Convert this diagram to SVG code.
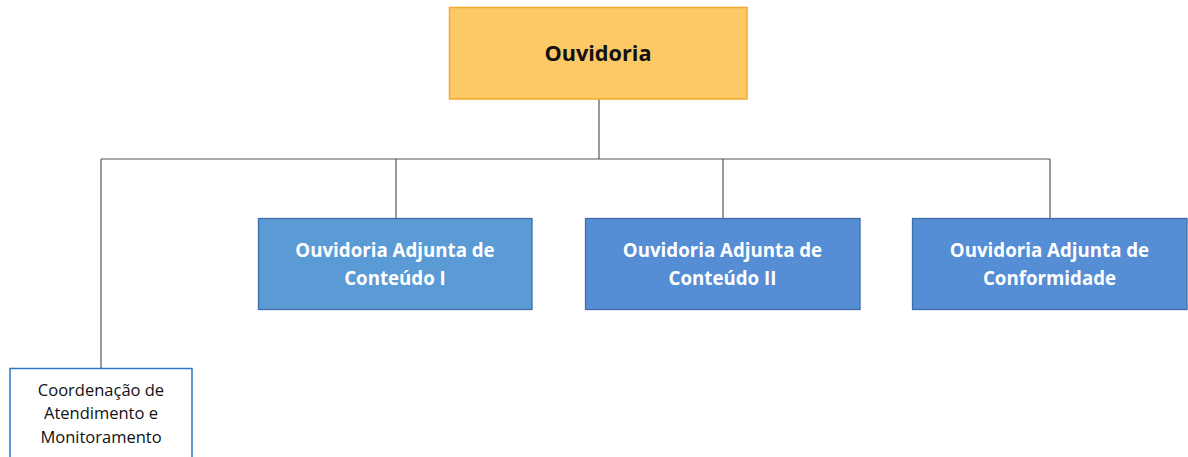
<svg xmlns="http://www.w3.org/2000/svg" width="1188" height="457" viewBox="0 0 1188 457">
<style>
.line{fill:none;stroke:#555;stroke-width:1.2}
.adj{stroke:#3D6FA6;stroke-width:1.3}
.t{font-family:"Open Sans","Liberation Sans",sans-serif;text-anchor:middle}
.tb{font-weight:bold;font-size:18.7px;fill:#fff}
.tc{font-size:16.5px;fill:#111}
</style>
<rect width="1188" height="457" fill="#fff"/>
<g id="connectors">
<path class="line" d="M599 99V159M101 159H1050M101 159V368M396 159V218M723 159V218M1050 159V218"/>
</g>
<g id="ouvidoria">
<rect x="449.5" y="7.5" width="297.5" height="91.5" fill="#FDC966" stroke="#F4A82C" stroke-width="1.5"/>
<text class="t" x="598" y="61" font-size="21.7" font-weight="bold" fill="#111">Ouvidoria</text>
</g>
<g id="conteudo1">
<rect class="adj" x="258.5" y="218.5" width="273.5" height="91" fill="#5B9BD5"/>
<text class="t tb" x="395" y="257">Ouvidoria Adjunta de</text>
<text class="t tb" x="395" y="285">Conteúdo I</text>
</g>
<g id="conteudo2">
<rect class="adj" x="585.5" y="218.5" width="274.5" height="91" fill="#558ED5"/>
<text class="t tb" x="722.5" y="257">Ouvidoria Adjunta de</text>
<text class="t tb" x="722.5" y="285">Conteúdo II</text>
</g>
<g id="conformidade">
<rect class="adj" x="912.5" y="218.5" width="274.5" height="91" fill="#558ED5"/>
<text class="t tb" x="1049.5" y="257">Ouvidoria Adjunta de</text>
<text class="t tb" x="1049.5" y="285">Conformidade</text>
</g>
<g id="coordenacao">
<rect x="10" y="368.5" width="182" height="100" fill="#fff" stroke="#2E75C6" stroke-width="1.5"/>
<text class="t tc" x="101" y="396">Coordenação de</text>
<text class="t tc" x="101" y="419">Atendimento e</text>
<text class="t tc" x="101" y="443">Monitoramento</text>
</g>
</svg>
